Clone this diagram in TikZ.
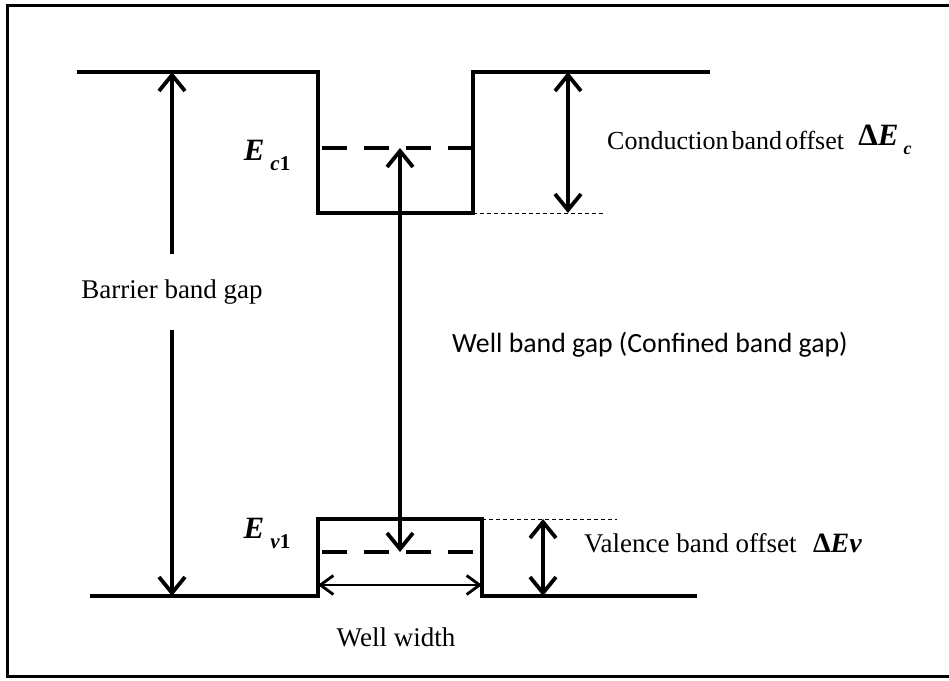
\documentclass[tikz,border=0pt]{standalone}
\usepackage{fontspec}
\setmainfont{Liberation Serif}
\newfontfamily\calfont{Carlito}
\usetikzlibrary{arrows.meta, positioning}

\newcommand{\lvlname}[1]{\textbf{\textit{E}}\hspace{6pt}\raisebox{-10pt}{\fontsize{21}{21}\selectfont\textbf{\textit{#1}1}}}

\begin{document}
\begin{tikzpicture}[
        x=1pt, y=-1pt,
        band/.style={line width=3.8pt, line join=miter},
        level/.style={line width=3.8pt, dash pattern=on 25pt off 17pt},
        guide/.style={line width=0.8pt, dash pattern=on 4pt off 3pt},
        gaparrow/.style={line width=3.8pt, {Straight Barb[length=16pt,width=26pt]}-{Straight Barb[length=16pt,width=26pt]}},
        lbl/.style={font=\fontsize{27}{32}\selectfont, inner sep=0pt},
        sym/.style={font=\fontsize{31}{36}\selectfont, inner sep=0pt}
        ]
        \useasboundingbox (0,0) rectangle (949,680);
        % Frame
        \draw[line width=3pt] (949,5) -- (7,5) -- (7,676) -- (949,676);

        % Conduction band
        \coordinate (cbL) at (77,72);
        \coordinate (cbA) at (318,72);
        \coordinate (cbB) at (318,213);
        \coordinate (cbC) at (473,213);
        \coordinate (cbD) at (473,72);
        \coordinate (cbR) at (710,72);
        \draw[band] (cbL) -- (cbA) -- (cbB) -- (cbC) -- (cbD) -- (cbR);

        % Valence band
        \coordinate (vbL) at (90,596);
        \coordinate (vbA) at (318,596);
        \coordinate (vbB) at (318,519);
        \coordinate (vbC) at (482,519);
        \coordinate (vbD) at (482,596);
        \coordinate (vbR) at (697,596);
        \draw[band] (vbL) -- (vbA) -- (vbB) -- (vbC) -- (vbD) -- (vbR);

        % Confined levels
        \coordinate (ec1L) at (322,148);
        \coordinate (ec1R) at (473,148);
        \coordinate (ev1L) at (322,552);
        \coordinate (ev1R) at (473,552);
        \draw[level] (ec1L) -- (ec1R);
        \draw[level] (ev1L) -- (ev1R);

        % Guide lines
        \coordinate (cbG) at (605,213);
        \coordinate (vbG) at (617,519);
        \draw[guide] (cbC) -- (cbG);
        \draw[guide] (vbC) -- (vbG);

        % Gaps
        \coordinate (bgTop) at (172,72);
        \coordinate (bgBot) at (172,596);
        \draw[gaparrow] (bgTop) -- node[pos=0.42, fill=white, lbl, minimum height=76pt] (barrier) {Barrier band gap} (bgBot);
        \coordinate (wgTop) at (400,148);
        \coordinate (wgBot) at (400,552);
        \draw[gaparrow] (wgTop) -- (wgBot);
        \coordinate (cboTop) at (568,72);
        \coordinate (cboBot) at (568,213);
        \draw[gaparrow] (cboTop) -- (cboBot);
        \coordinate (vboTop) at (543,519);
        \coordinate (vboBot) at (543,596);
        \draw[gaparrow] (vboTop) -- (vboBot);
        \coordinate (wwL) at (318,585);
        \coordinate (wwR) at (482,585);
        \draw[line width=2.8pt, {Straight Barb[length=13pt,width=19pt]}-{Straight Barb[length=13pt,width=19pt]}] (wwL) -- (wwR);

        % Labels
        \node[sym] (ec1) at (267,155) {\lvlname{c}};
        \node[sym] (ev1) at (267,533) {\lvlname{v}};
        \node[lbl, anchor=west, font=\fontsize{26}{30}\selectfont] (cbo) at (607,140) {\spaceskip=0.12em\relax Conduction band offset};
        \node[sym, right=14pt of cbo] (dEc) {\textbf{Δ\textit{E}}\hspace{5pt}\raisebox{-9pt}{\fontsize{18}{18}\selectfont\textbf{\textit{c}}}};
        \node[lbl, anchor=west, font=\calfont\fontsize{27.8}{32}\selectfont] (wbg) at (452,345) {Well band gap (Confined band gap)};
        \node[lbl, anchor=west] (vbo) at (584,543) {Valence band offset};
        \node[sym, right=16pt of vbo, font=\fontsize{28}{32}\selectfont] (dEv) {\textbf{Δ\textit{Ev}}};
        \node[lbl] (ww) at (396,637) {Well width};
    \end{tikzpicture}
\end{document}
